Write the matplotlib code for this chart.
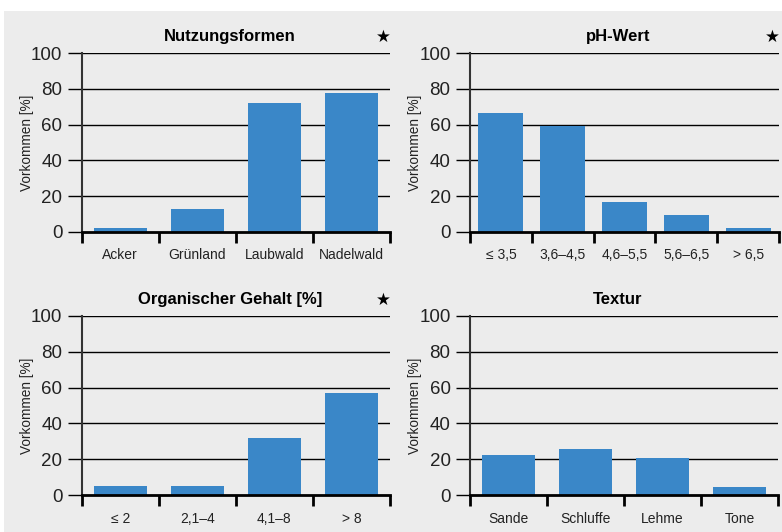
import matplotlib
matplotlib.use("Agg")
import matplotlib.pyplot as plt
from matplotlib.patches import Rectangle

# Daten
nutzung_labels = ["Acker", "Grünland", "Laubwald", "Nadelwald"]
nutzung_values = [2, 13, 72, 78]

ph_labels = ["≤ 3,5", "3,6–4,5", "4,6–5,5", "5,6–6,5", "> 6,5"]
ph_values = [66.5, 59, 16.5, 9.5, 2]

org_labels = ["≤ 2", "2,1–4", "4,1–8", "> 8"]
org_values = [5, 5, 32, 57]

textur_labels = ["Sande", "Schluffe", "Lehme", "Tone"]
textur_values = [22.5, 25.5, 20.5, 4.5]

titles = ["Nutzungsformen", "pH-Wert", "Organischer Gehalt [%]", "Textur"]
stars = [True, True, True, False]

plt.rcParams["font.family"] = ["Liberation Sans", "DejaVu Sans"]

BAR = "#3a87c8"
BG = "#ececec"
W, H = 782, 532

fig = plt.figure(figsize=(W / 100, H / 100), dpi=100)
fig.patch.set_facecolor("white")
bg = Rectangle((4 / W, 0), 1, 1 - 11 / H, transform=fig.transFigure,
               facecolor=BG, edgecolor="none", zorder=-10)
fig.add_artist(bg)


def px_axes(x0, x1, ytop, ybot):
    return [x0 / W, 1 - ybot / H, (x1 - x0) / W, (ybot - ytop) / H]


boxes = [
    px_axes(81.7, 390, 53.3, 231.7),
    px_axes(470, 779, 53.3, 231.7),
    px_axes(81.7, 390, 316, 495),
    px_axes(470, 778, 316, 495),
]
data = [
    (nutzung_labels, nutzung_values, 0.69),
    (ph_labels, ph_values, 0.73),
    (org_labels, org_values, 0.69),
    (textur_labels, textur_values, 0.69),
]

for box, (labels, values, bw), title, star in zip(boxes, data, titles, stars):
    ax = fig.add_axes(box)
    ax.set_facecolor("none")
    n = len(labels)
    x = list(range(n))
    ax.bar(x, values, width=bw, color=BAR, zorder=3)
    ax.set_xlim(-0.5, n - 0.5)
    ax.set_ylim(0, 100)

    ax.set_yticks([0, 20, 40, 60, 80, 100])
    ax.tick_params(axis="y", length=10, width=1, pad=4, labelsize=13.5,
                   color="black", labelcolor="#222222")
    for yv in [20, 40, 60, 80, 100]:
        ax.axhline(yv, color="black", lw=1, zorder=1)

    ax.set_xticks(x)
    ax.set_xticklabels(labels, fontsize=10, color="#222222")
    ax.tick_params(axis="x", length=0, pad=12)
    ax.set_xticks([i - 0.5 for i in range(n + 1)], minor=True)
    ax.tick_params(axis="x", which="minor", length=8, width=2, color="black")

    for s in ["top", "right"]:
        ax.spines[s].set_visible(False)
    ax.spines["left"].set_color("#333333")
    ax.spines["left"].set_linewidth(1.5)
    ax.spines["bottom"].set_color("black")
    ax.spines["bottom"].set_linewidth(2)
    ax.spines["bottom"].set_zorder(4)

    ax.set_ylabel("Vorkommen [%]", fontsize=9.8, color="#222222")
    ax.yaxis.set_label_coords(-0.155, 0.5)

    ty = 1 + 16.3 / (box[3] * H)
    ax.text(0.48, ty, title, transform=ax.transAxes, ha="center", va="center",
            fontsize=12, fontweight="bold")
    if star:
        ax.text(0.98, ty, "★", transform=ax.transAxes,
                ha="center", va="center", fontsize=12, family=["DejaVu Sans"])

fig.savefig("out.png", dpi=100, facecolor=fig.get_facecolor())
